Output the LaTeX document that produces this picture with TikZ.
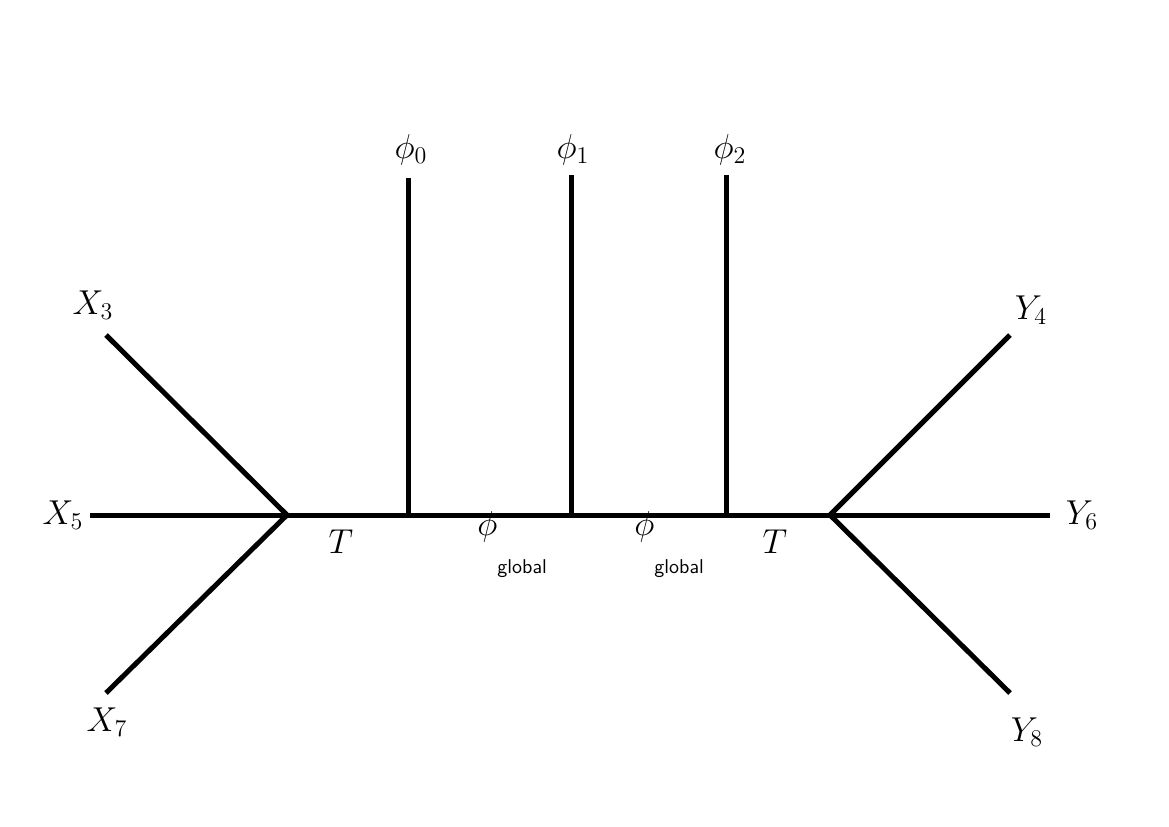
\documentclass[tikz,border=0pt]{standalone}
\usepackage{tikz}
\usetikzlibrary{positioning}
\tikzset{
     leg/.style={line width=2.5pt},
     lbl/.style={font=\LARGE, inner sep=0pt}
     }
\newcommand{\phiglobal}{$\phi$\raisebox{-1.1em}{\normalsize\sffamily global}}

\begin{document}
\begin{tikzpicture}[x=0.5pt,y=-0.5pt]
\useasboundingbox (0,0) rectangle (1169,826);

% junctions on the backbone
\coordinate (L) at (287,515);
\coordinate (A) at (408,515);
\coordinate (B) at (571,515);
\coordinate (C) at (726,515);
\coordinate (R) at (830,515);

% free ends
\coordinate (x3) at (106,335);
\coordinate (x5) at (90,515);
\coordinate (x7) at (106,693);
\coordinate (y4) at (1010,335);
\coordinate (y6) at (1050,515);
\coordinate (y8) at (1010,693);
\coordinate (p0) at (408,178);
\coordinate (p1) at (571,175);
\coordinate (p2) at (726,175);

%Lines
\draw[leg] (L) -- (R);
\draw[leg] (L) -- (x3);
\draw[leg] (L) -- (x5);
\draw[leg] (L) -- (x7);
\draw[leg] (R) -- (y4);
\draw[leg] (R) -- (y6);
\draw[leg] (R) -- (y8);
\draw[leg] (A) -- (p0);
\draw[leg] (B) -- (p1);
\draw[leg] (C) -- (p2);

%Labels
\node[lbl] (lx3) at (93,305) {$X_3$};
\node[lbl] (lx5) at (63,515) {$X_5$};
\node[lbl] (lx7) at (107,722) {$X_7$};
\node[lbl] (ly4) at (1031,310) {$Y_4$};
\node[lbl] (ly6) at (1082,515) {$Y_6$};
\node[lbl] (ly8) at (1027,732) {$Y_8$};
\node[lbl] (lp0) at (411,150) {$\phi_0$};
\node[lbl] (lp1) at (573,150) {$\phi_1$};
\node[lbl] (lp2) at (730,150) {$\phi_2$};
\node[lbl] (lt1) at (341,542) {$T$};
\node[lbl] (lt2) at (775,542) {$T$};
\node[lbl, anchor=west] (lg1) at (477,545) {\phiglobal};
\node[lbl, anchor=west] (lg2) at (634,545) {\phiglobal};
\end{tikzpicture}
\end{document}
